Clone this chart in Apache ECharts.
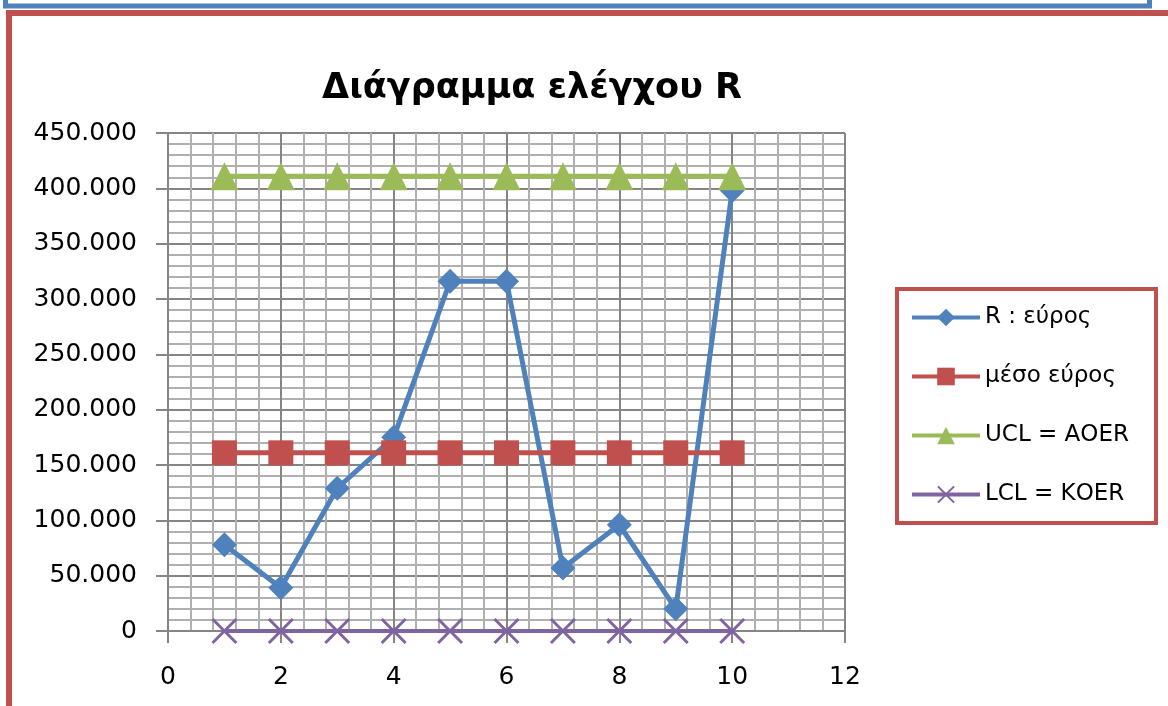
<!DOCTYPE html>
<html>
<head>
<meta charset="utf-8">
<title>Διάγραμμα ελέγχου R</title>
<script src="https://cdn.jsdelivr.net/npm/echarts@6/dist/echarts.min.js"></script>
<style>
  html, body { margin: 0; padding: 0; background: #ffffff; }
  #chart { width: 1168px; height: 706px; }
</style>
</head>
<body>
<div id="chart"></div>
<script>
// Sample numbers (x axis) and the four series of the R control chart
const sampleNo   = [1, 2, 3, 4, 5, 6, 7, 8, 9, 10];
const rangeR     = [78000, 39000, 129000, 175000, 316000, 316000, 57000, 96000, 20000, 398000];
const meanRange  = [161000, 161000, 161000, 161000, 161000, 161000, 161000, 161000, 161000, 161000];
const uclValues  = [411000, 411000, 411000, 411000, 411000, 411000, 411000, 411000, 411000, 411000];
const lclValues  = [0, 0, 0, 0, 0, 0, 0, 0, 0, 0];
const seriesNames = ['R : εύρος', 'μέσο εύρος', 'UCL = ΑΟΕR', 'LCL = ΚΟΕR'];
const chartTitle = 'Διάγραμμα ελέγχου R';

// Axis ranges
const xMin = 0, xMax = 12, xStep = 2;
const yMin = 0, yMax = 450000, yStep = 50000;

const FONT = 'DejaVu Sans';
const MAJOR = '#858585';
const MINOR = '#b0b0b0';

// Greek style grouping: 450000 -> "450.000"
function groupDots(v) {
  return String(Math.round(v)).replace(/\B(?=(\d{3})+(?!\d))/g, '.');
}

function pairs(values) {
  return sampleNo.map((x, i) => [x, values[i]]);
}

// X-shaped marker as a filled outline
const crossPath = 'path://M0,1.6L1.6,0L10,8.4L18.4,0L20,1.6L11.6,10L20,18.4L18.4,20L10,11.6L1.6,20L0,18.4L8.4,10Z';

const chart = echarts.init(document.getElementById('chart'), null, { renderer: 'canvas' });

chart.setOption({
  animation: false,
  backgroundColor: '#ffffff',
  title: {
    text: chartTitle,
    left: 527,
    top: 66,
    textAlign: 'center',
    textStyle: { fontFamily: FONT, fontSize: 35, fontWeight: 'bold', color: '#000000' }
  },
  grid: { left: 168, right: 323, top: 133, bottom: 75, containLabel: false },
  xAxis: {
    type: 'value',
    min: xMin, max: xMax, interval: xStep,
    axisLine: { show: true, onZero: false, lineStyle: { color: MAJOR, width: 2 } },
    axisTick: { show: true, inside: false, length: 12, lineStyle: { color: MAJOR, width: 2 } },
    axisLabel: { margin: 34, fontFamily: FONT, fontSize: 25, color: '#000000' },
    splitLine: { show: true, lineStyle: { color: MAJOR, width: 2 } },
    minorTick: { show: false, splitNumber: 5 },
    minorSplitLine: { show: true, lineStyle: { color: MINOR, width: 2 } }
  },
  yAxis: {
    type: 'value',
    min: yMin, max: yMax, interval: yStep,
    axisLine: { show: true, onZero: false, lineStyle: { color: MAJOR, width: 2 } },
    axisTick: { show: true, inside: false, length: 12, lineStyle: { color: MAJOR, width: 2 } },
    axisLabel: { margin: 31, fontFamily: FONT, fontSize: 25, color: '#000000', formatter: groupDots },
    splitLine: { show: true, lineStyle: { color: MAJOR, width: 2 } },
    minorTick: { show: false, splitNumber: 5 },
    minorSplitLine: { show: true, lineStyle: { color: MINOR, width: 2 } }
  },
  legend: {
    orient: 'vertical',
    left: 910,
    top: 306,
    z: 10,
    itemWidth: 68,
    itemHeight: 22,
    itemGap: 36,
    padding: 0,
    lineStyle: { width: 4 },
    textStyle: { fontFamily: FONT, fontSize: 23, color: '#000000' },
    data: seriesNames
  },
  graphic: [
    // outer frames
    { type: 'rect', z: 1, shape: { x: 5.5, y: -20, width: 1144, height: 26 },
      style: { fill: 'none', stroke: '#4f81bd', lineWidth: 5 } },
    { type: 'rect', z: 1, shape: { x: 9, y: 13, width: 1200, height: 800 },
      style: { fill: 'none', stroke: '#c0504d', lineWidth: 6 } },
    // legend box
    { type: 'rect', z: 2, shape: { x: 897, y: 289, width: 259, height: 234 },
      style: { fill: '#ffffff', stroke: '#c0504d', lineWidth: 4 } }
  ],
  series: [
    {
      name: seriesNames[0], type: 'line', data: pairs(rangeR),
      symbol: 'diamond', symbolSize: 25,
      lineStyle: { color: '#4f81bd', width: 5 },
      itemStyle: { color: '#4f81bd' }
    },
    {
      name: seriesNames[1], type: 'line', data: pairs(meanRange),
      symbol: 'rect', symbolSize: 25,
      lineStyle: { color: '#c0504d', width: 5 },
      itemStyle: { color: '#c0504d' }
    },
    {
      name: seriesNames[2], type: 'line', data: pairs(uclValues),
      symbol: 'triangle', symbolSize: [28, 28],
      lineStyle: { color: '#9bbb59', width: 5 },
      itemStyle: { color: '#9bbb59' }
    },
    {
      name: seriesNames[3], type: 'line', data: pairs(lclValues),
      symbol: crossPath, symbolSize: 26,
      lineStyle: { color: '#8064a2', width: 4 },
      itemStyle: { color: '#8064a2' }
    }
  ]
});
</script>
</body>
</html>
